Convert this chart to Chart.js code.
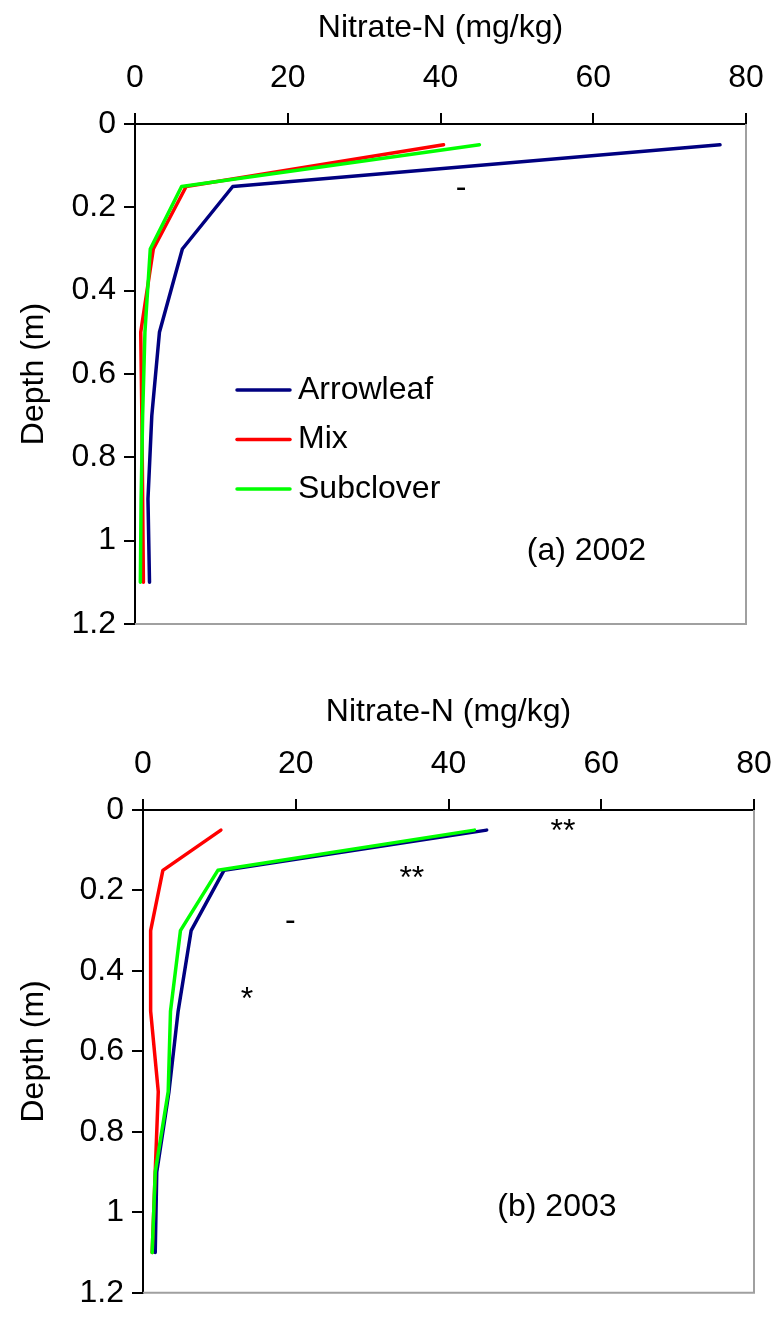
<!DOCTYPE html>
<html>
<head>
<meta charset="utf-8">
<script src="https://cdn.jsdelivr.net/npm/chart.js@4.4.1/dist/chart.umd.min.js"></script>
<style>
  html, body { margin: 0; background: #fff; overflow: hidden; }
  canvas { display: block; }
</style>
</head>
<body>
<canvas id="chart2002" width="830" height="660"></canvas>
<canvas id="chart2003" width="830" height="660"></canvas>
<script>
// sampling depths (m)
const depths = [0.05, 0.15, 0.3, 0.5, 0.7, 0.9, 1.1];

// nitrate-N (mg/kg), 2002
const arrowleaf2002 = [76.6, 12.8, 6.2, 3.2, 2.2, 1.7, 1.9];
const mix2002 = [40.4, 6.7, 2.4, 0.75, 0.9, 1.0, 1.1];
const subclover2002 = [45.1, 6.1, 2.0, 1.3, 1.0, 0.8, 0.7];

// nitrate-N (mg/kg), 2003
const arrowleaf2003 = [45.0, 10.6, 6.3, 4.6, 3.4, 1.8, 1.6];
const mix2003 = [10.2, 2.6, 1.0, 1.0, 2.0, 1.6, 1.2];
const subclover2003 = [43.4, 9.8, 4.9, 3.6, 3.3, 1.6, 1.2];

const seriesNames = ['Arrowleaf', 'Mix', 'Subclover'];
const nitrateTicks = [0, 20, 40, 60, 80];
const depthTicks = [0, 0.2, 0.4, 0.6, 0.8, 1, 1.2];

const colors = ['#000080', '#ff0000', '#00ff00'];
const FONT = '"Liberation Sans", Arial, sans-serif';
const FS = 32;
const CW = 830, CH = 660;

// gray right/bottom frame
const framePlugin = {
    id: 'frame',
    beforeDatasetsDraw(chart) {
        const { ctx, chartArea: a } = chart;
        ctx.save();
        ctx.strokeStyle = '#a0a0a0';
        ctx.lineWidth = 2;
        ctx.beginPath();
        ctx.moveTo(a.left, a.bottom);
        ctx.lineTo(a.right, a.bottom);
        ctx.lineTo(a.right, a.top);
        ctx.stroke();
        ctx.restore();
    }
};

// significance marks and panel label
const notesPlugin = {
    id: 'notes',
    afterDatasetsDraw(chart, args, opts) {
        const { ctx, scales: { x, y } } = chart;
        ctx.save();
        ctx.font = FS + 'px ' + FONT;
        ctx.fillStyle = '#000';
        ctx.textAlign = 'center';
        ctx.textBaseline = 'middle';
        (opts.items || []).forEach(n => {
            ctx.fillText(n.text, x.getPixelForValue(n.x), y.getPixelForValue(n.y));
        });
        ctx.restore();
    }
};

// legend drawn inside the plot
const keyPlugin = {
    id: 'key',
    afterDatasetsDraw(chart, args, opts) {
        if (!opts.show) return;
        const { ctx, chartArea: a } = chart;
        ctx.save();
        ctx.font = FS + 'px ' + FONT;
        ctx.textBaseline = 'middle';
        ctx.lineCap = 'round';
        chart.data.datasets.forEach((ds, i) => {
            const yy = a.top + opts.dy + i * opts.gap;
            const xx = a.left + opts.dx;
            ctx.strokeStyle = ds.borderColor;
            ctx.lineWidth = 3.5;
            ctx.beginPath();
            ctx.moveTo(xx, yy);
            ctx.lineTo(xx + 53, yy);
            ctx.stroke();
            ctx.fillStyle = '#000';
            ctx.fillText(ds.label, xx + 61, yy);
        });
        ctx.restore();
    }
};

function makeChart(id, series, box, notes, showKey) {
    const datasets = series.map((vals, i) => ({
        label: seriesNames[i],
        data: vals.map((v, k) => ({ x: v, y: depths[k] })),
        borderColor: colors[i],
        backgroundColor: colors[i],
        borderWidth: 3.5,
        borderCapStyle: 'round',
        borderJoinStyle: 'round',
        pointRadius: 0,
        tension: 0,
        order: 3 - i
    }));

    return new Chart(document.getElementById(id), {
        type: 'line',
        data: { datasets },
        plugins: [framePlugin, notesPlugin, keyPlugin],
        options: {
            responsive: false,
            animation: false,
            layout: { padding: { left: 0, top: 0, right: CW - box.right, bottom: CH - box.bottom } },
            scales: {
                x: {
                    type: 'linear',
                    position: 'top',
                    min: 0, max: 80,
                    afterBuildTicks: s => { s.ticks = nitrateTicks.map(v => ({ value: v })); },
                    afterFit: s => { s.height = box.top; },
                    ticks: { color: '#000', font: { family: FONT, size: FS }, padding: 16, maxRotation: 0 },
                    grid: { drawOnChartArea: false, drawTicks: true, tickLength: 11, color: '#000', lineWidth: 2 },
                    border: { display: true, color: '#000', width: 2 },
                    title: {
                        display: true, text: 'Nitrate-N (mg/kg)', color: '#000',
                        font: { family: FONT, size: FS },
                        padding: { top: box.top - box.titleGap - FS * 0.6, bottom: 0 }
                    }
                },
                y: {
                    type: 'linear',
                    position: 'left',
                    reverse: true,
                    min: 0, max: 1.2,
                    afterBuildTicks: s => { s.ticks = depthTicks.map(v => ({ value: v })); },
                    afterFit: s => { s.width = box.left; },
                    ticks: { color: '#000', font: { family: FONT, size: FS }, padding: 8, callback: v => String(v) },
                    grid: { drawOnChartArea: false, drawTicks: true, tickLength: 11, color: '#000', lineWidth: 2 },
                    border: { display: true, color: '#000', width: 2 },
                    title: { display: true, text: 'Depth (m)', color: '#000', font: { family: FONT, size: FS }, padding: { top: 15, bottom: 0 } }
                }
            },
            plugins: {
                legend: { display: false },
                tooltip: { enabled: false },
                notes: { items: notes },
                key: { show: showKey, dx: 102, dy: 266, gap: 49.5 }
            }
        }
    });
}

makeChart('chart2002',
    [arrowleaf2002, mix2002, subclover2002],
    { left: 135, top: 124, right: 746, bottom: 624, titleGap: 96 },
    [
        { text: '-', x: 42.7, y: 0.154 },
        { text: '(a) 2002', x: 59.1, y: 1.025 }
    ],
    true);

makeChart('chart2003',
    [arrowleaf2003, mix2003, subclover2003],
    { left: 143, top: 150, right: 754, bottom: 640, titleGap: 98 },
    [
        { text: '**', x: 55.0, y: 0.056 },
        { text: '**', x: 35.2, y: 0.171 },
        { text: '-', x: 19.3, y: 0.277 },
        { text: '*', x: 13.6, y: 0.473 },
        { text: '(b) 2003', x: 54.2, y: 0.987 }
    ],
    false);
</script>
</body>
</html>
